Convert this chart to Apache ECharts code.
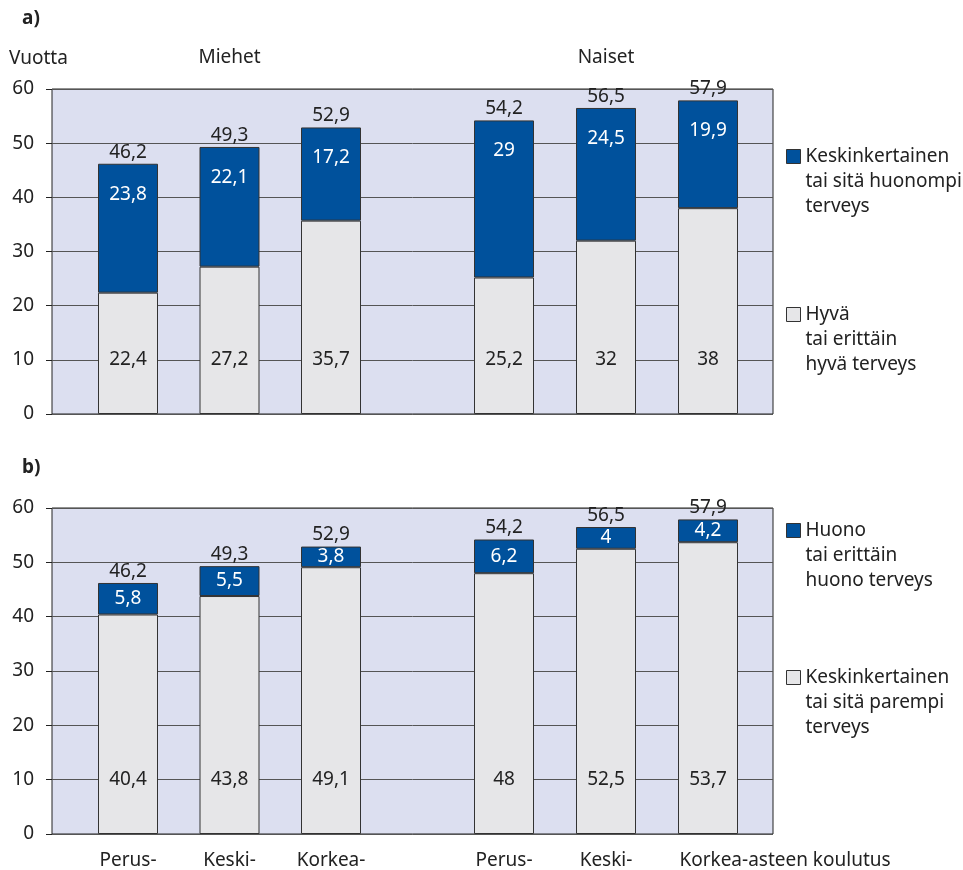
<!DOCTYPE html>
<html>
<head>
<meta charset="utf-8">
<script src="https://cdn.jsdelivr.net/npm/echarts@6/dist/echarts.min.js"></script>
<style>
html,body{margin:0;padding:0;background:#fff;}
#c{width:963px;height:870px;}
</style>
</head>
<body>
<div id="c"></div>
<script>
// ---- data ----
const menCats = ['Perus-', 'Keski-', 'Korkea-'];
const womenCats = ['Perus-', 'Keski-', 'Korkea-asteen koulutus'];
const yTicks = [0, 10, 20, 30, 40, 50, 60];

// chart a
const aNames = ['Keskinkertainen\ntai sitä huonompi\nterveys', 'Hyvä\ntai erittäin\nhyvä terveys'];
const aMenBlue = [23.8, 22.1, 17.2];
const aMenGray = [22.4, 27.2, 35.7];
const aWomenBlue = [29, 24.5, 19.9];
const aWomenGray = [25.2, 32, 38];

// chart b
const bNames = ['Huono\ntai erittäin\nhuono terveys', 'Keskinkertainen\ntai sitä parempi\nterveys'];
const bMenBlue = [5.8, 5.5, 3.8];
const bMenGray = [40.4, 43.8, 49.1];
const bWomenBlue = [6.2, 4, 4.2];
const bWomenGray = [48, 52.5, 53.7];

// totals (life expectancy)
const menTotals = [46.2, 49.3, 52.9];
const womenTotals = [54.2, 56.5, 57.9];

// ---- styles ----
const FONT = 'Noto Sans';
const FS = 19;
const BLUE = '#00519c';
const GRAY = '#e6e6e8';
const TXT = '#222';
const fmt = p => String(p.value).replace('.', ',');

const charts = [
  {top: 89, height: 325, names: aNames, men: [aMenBlue, aMenGray], women: [aWomenBlue, aWomenGray], labels: false, blueLabel: {position: 'insideTop', distance: 21}},
  {top: 508, height: 326, names: bNames, men: [bMenBlue, bMenGray], women: [bWomenBlue, bWomenGray], labels: true, blueLabel: {position: 'inside'}}
];

const grid = [], xAxis = [], yAxis = [], series = [], legend = [];

charts.forEach((c, ci) => {
  const base = grid.length;
  // background grid with y axis
  grid.push({left: 52, width: 721, top: c.top, height: c.height, show: true, backgroundColor: '#dcdff0', borderColor: '#222', borderWidth: 1});
  xAxis.push({gridIndex: base, type: 'category', data: [], show: false});
  yAxis.push({
    gridIndex: base, type: 'value', min: yTicks[0], max: yTicks[yTicks.length - 1], interval: 10,
    axisLine: {show: false},
    axisTick: {show: true, length: 6, lineStyle: {color: '#222'}},
    axisLabel: {color: TXT, fontSize: FS, fontFamily: FONT, margin: 18},
    splitLine: {show: true, lineStyle: {color: '#555', width: 1}}
  });
  const groups = [
    {left: 77.25, width: 304.5, cats: menCats, d: c.men, totals: menTotals, name: 'Miehet'},
    {left: 453, width: 306, cats: womenCats, d: c.women, totals: womenTotals, name: 'Naiset'}
  ];
  groups.forEach(g => {
    const gi = grid.length;
    grid.push({left: g.left, width: g.width, top: c.top, height: c.height});
    const xa = {
      gridIndex: gi, type: 'category', data: g.cats,
      axisLine: {show: false}, axisTick: {show: false}
    };
    if (c.labels) {
      xa.position = 'bottom';
      xa.axisLabel = {
        show: true, interval: 0, color: TXT, fontSize: FS, fontFamily: FONT, margin: 17,
        formatter: v => v.length > 12 ? '{sp| }' + v : v,
        rich: {sp: {width: 154}}
      };
    } else {
      xa.position = 'top';
      xa.axisLabel = {show: false};
      xa.name = g.name;
      xa.nameLocation = 'middle';
      xa.nameGap = 22;
      xa.nameTextStyle = {color: TXT, fontSize: FS, fontFamily: FONT};
    }
    xAxis.push(xa);
    yAxis.push({gridIndex: gi, type: 'value', min: 0, max: 60, interval: 10, show: false, splitLine: {show: false}});
    series.push({
      type: 'bar', name: c.names[1], xAxisIndex: gi, yAxisIndex: gi, stack: 's' + gi, data: g.d[1], barWidth: 60,
      itemStyle: {color: GRAY, borderColor: '#333', borderWidth: 1},
      label: {show: true, position: 'insideBottom', distance: 45, color: TXT, fontSize: FS, fontFamily: FONT, formatter: fmt},
      emphasis: {disabled: true}
    });
    series.push({
      type: 'bar', name: c.names[0], xAxisIndex: gi, yAxisIndex: gi, stack: 's' + gi, data: g.d[0], barWidth: 60,
      itemStyle: {color: BLUE, borderColor: '#333', borderWidth: 1},
      label: Object.assign({show: true, color: '#fff', fontSize: FS, fontFamily: FONT, formatter: fmt}, c.blueLabel),
      emphasis: {disabled: true}
    });
    // invisible bar carrying the total label above each stack
    series.push({
      type: 'bar', name: 'total', xAxisIndex: gi, yAxisIndex: gi, data: g.totals, barWidth: 60, barGap: '-100%',
      itemStyle: {color: 'rgba(0,0,0,0)', borderWidth: 0}, silent: true, z: 1,
      label: {show: true, position: 'top', distance: 2, color: TXT, fontSize: FS, fontFamily: FONT, formatter: fmt},
      emphasis: {disabled: true}
    });
  });
});

const legendText = {color: TXT, fontSize: FS, fontFamily: FONT, lineHeight: 25};
legend.push({
  data: aNames, orient: 'vertical', left: 786, top: 94, icon: 'rect', itemWidth: 14, itemHeight: 14, itemGap: 33, padding: 0,
  itemStyle: {borderColor: '#333', borderWidth: 1},
  formatter: n => '\n\n' + n, textStyle: legendText
});
legend.push({
  data: bNames, orient: 'vertical', left: 786, top: 468, icon: 'rect', itemWidth: 14, itemHeight: 14, itemGap: 22, padding: 0,
  itemStyle: {borderColor: '#333', borderWidth: 1},
  formatter: n => '\n\n' + n, textStyle: legendText
});

const chart = echarts.init(document.getElementById('c'), null, {renderer: 'canvas'});
chart.setOption({
  animation: false,
  backgroundColor: '#fff',
  textStyle: {fontFamily: FONT},
  grid, xAxis, yAxis, series, legend,
  graphic: [
    {type: 'text', left: 22, top: 9, style: {text: 'a)', font: 'bold 19px "Noto Sans"', fill: TXT}},
    {type: 'text', left: 22, top: 458, style: {text: 'b)', font: 'bold 19px "Noto Sans"', fill: TXT}},
    {type: 'text', left: 9, top: 49, style: {text: 'Vuotta', font: '19px "Noto Sans"', fill: TXT}}
  ]
});
</script>
</body>
</html>
